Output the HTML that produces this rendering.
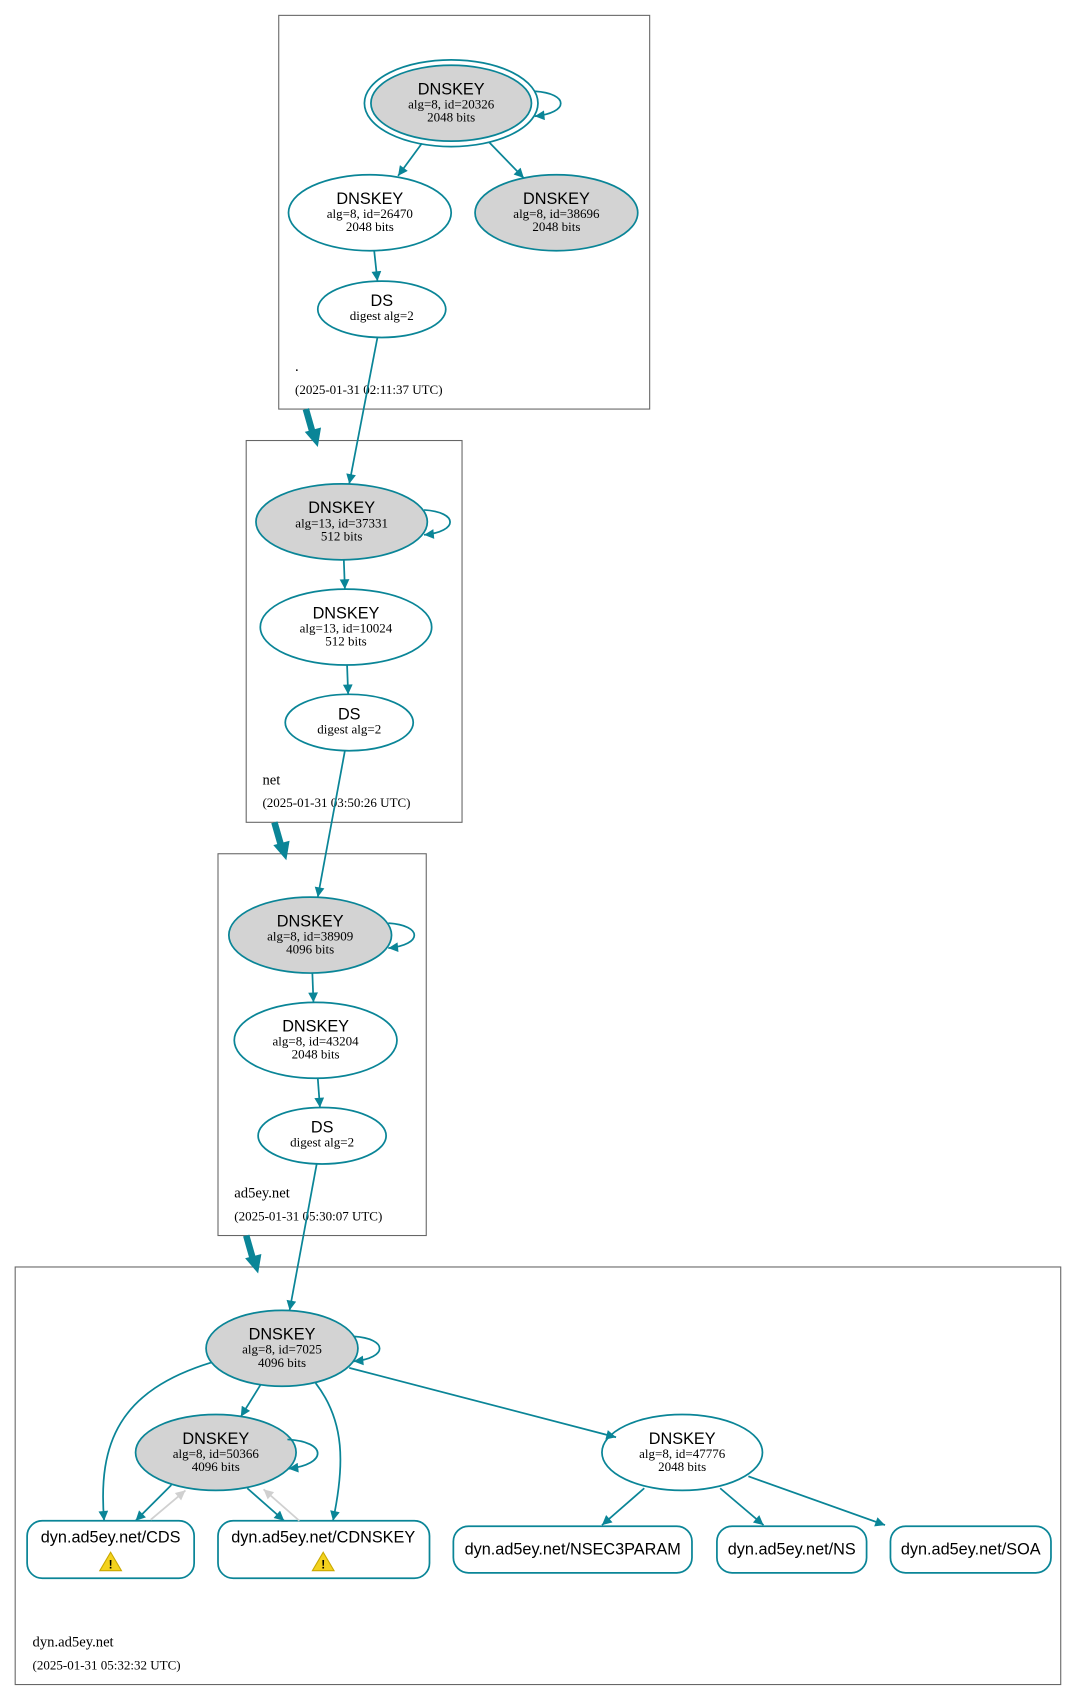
<!DOCTYPE html>
<html><head><meta charset="utf-8"><style>
html,body{margin:0;padding:0;background:#fff;}
svg{display:block;}
.s{font-family:"Liberation Sans",sans-serif;font-size:15px;fill:#000;text-anchor:middle;}
.d{font-family:"Liberation Serif",serif;font-size:12px;fill:#000;text-anchor:middle;}
.l{font-family:"Liberation Serif",serif;font-size:13.5px;fill:#000;}
.ls{font-family:"Liberation Serif",serif;font-size:12px;fill:#000;}
.e{stroke:#0a8597;stroke-width:1.6;fill:none;marker-end:url(#a);}
.g{stroke:#d0d0d0;stroke-width:1.6;fill:none;marker-end:url(#ag);}
.n{stroke:#0a8597;stroke-width:1.6;}
.box{fill:none;stroke:#666;stroke-width:1;}
.t{stroke:#0a8597;stroke-width:6;fill:none;}
</style></head><body>
<svg width="1077" height="1701" viewBox="0 0 993 1568" xmlns="http://www.w3.org/2000/svg">
<defs>
<marker id="a" viewBox="0 0 10 10" refX="10" refY="5" markerWidth="11" markerHeight="9" orient="auto" markerUnits="userSpaceOnUse"><path d="M0,0L10,5L0,10z" fill="#0a8597"/></marker>
<marker id="ag" viewBox="0 0 10 10" refX="10" refY="5" markerWidth="11" markerHeight="9" orient="auto" markerUnits="userSpaceOnUse"><path d="M0,0L10,5L0,10z" fill="#d0d0d0"/></marker>
</defs>
<rect class="box" x="257" y="14" width="342" height="363"/>
<rect class="box" x="227" y="406" width="199" height="352"/>
<rect class="box" x="201" y="787" width="192" height="352"/>
<rect class="box" x="14" y="1168" width="964" height="385"/>
<text class="l" x="272" y="342">.</text><text class="ls" x="272" y="363">(2025-01-31 02:11:37 UTC)</text>
<text class="l" x="242" y="723">net</text><text class="ls" x="242" y="744">(2025-01-31 03:50:26 UTC)</text>
<text class="l" x="216" y="1104">ad5ey.net</text><text class="ls" x="216" y="1125">(2025-01-31 05:30:07 UTC)</text>
<text class="l" x="30" y="1518">dyn.ad5ey.net</text><text class="ls" x="30" y="1539">(2025-01-31 05:32:32 UTC)</text>
<path class="t" d="M282,377 L288,398"/><path d="M281,398 L296,394 L293,412z" fill="#0a8597"/>
<path class="t" d="M253,758 L259,779"/><path d="M252,779 L267,775 L264,793z" fill="#0a8597"/>
<path class="t" d="M227,1139 L233,1160"/><path d="M226,1160 L241,1156 L238,1174z" fill="#0a8597"/>
<ellipse class="n" cx="416" cy="95" rx="80" ry="40" fill="#fff"/>
<ellipse class="n" cx="416" cy="95" rx="74" ry="35" fill="#d3d3d3"/>
<text class="s" x="416" y="87">DNSKEY</text><text class="d" x="416" y="100">alg=8, id=20326</text><text class="d" x="416" y="112">2048 bits</text>
<path class="e" d="M493,84 C525,86 525,104 493,107"/>
<ellipse class="n" cx="341" cy="196" rx="75" ry="35" fill="#fff"/>
<text class="s" x="341" y="188">DNSKEY</text><text class="d" x="341" y="201">alg=8, id=26470</text><text class="d" x="341" y="213">2048 bits</text>
<ellipse class="n" cx="513" cy="196" rx="75" ry="35" fill="#d3d3d3"/>
<text class="s" x="513" y="188">DNSKEY</text><text class="d" x="513" y="201">alg=8, id=38696</text><text class="d" x="513" y="213">2048 bits</text>
<ellipse class="n" cx="352" cy="285" rx="59" ry="26" fill="#fff"/>
<text class="s" x="352" y="282">DS</text><text class="d" x="352" y="295">digest alg=2</text>
<path class="e" d="M389,132 L367,162"/>
<path class="e" d="M451,131 L483,164"/>
<path class="e" d="M345,231 L348,259"/>
<path class="e" d="M348,311 L322,446"/>
<ellipse class="n" cx="315" cy="481" rx="79" ry="35" fill="#d3d3d3"/>
<text class="s" x="315" y="473">DNSKEY</text><text class="d" x="315" y="486">alg=13, id=37331</text><text class="d" x="315" y="498">512 bits</text>
<path class="e" d="M391,470 C423,472 423,490 391,493"/>
<ellipse class="n" cx="319" cy="578" rx="79" ry="35" fill="#fff"/>
<text class="s" x="319" y="570">DNSKEY</text><text class="d" x="319" y="583">alg=13, id=10024</text><text class="d" x="319" y="595">512 bits</text>
<ellipse class="n" cx="322" cy="666" rx="59" ry="26" fill="#fff"/>
<text class="s" x="322" y="663">DS</text><text class="d" x="322" y="676">digest alg=2</text>
<path class="e" d="M317,516 L318,543"/>
<path class="e" d="M320,613 L321,640"/>
<path class="e" d="M318,692 L293,827"/>
<ellipse class="n" cx="286" cy="862" rx="75" ry="35" fill="#d3d3d3"/>
<text class="s" x="286" y="854">DNSKEY</text><text class="d" x="286" y="867">alg=8, id=38909</text><text class="d" x="286" y="879">4096 bits</text>
<path class="e" d="M358,851 C390,853 390,871 358,874"/>
<ellipse class="n" cx="291" cy="959" rx="75" ry="35" fill="#fff"/>
<text class="s" x="291" y="951">DNSKEY</text><text class="d" x="291" y="964">alg=8, id=43204</text><text class="d" x="291" y="976">2048 bits</text>
<ellipse class="n" cx="297" cy="1047" rx="59" ry="26" fill="#fff"/>
<text class="s" x="297" y="1044">DS</text><text class="d" x="297" y="1057">digest alg=2</text>
<path class="e" d="M288,897 L289,924"/>
<path class="e" d="M293,994 L295,1021"/>
<path class="e" d="M292,1073 L267,1208"/>
<ellipse class="n" cx="260" cy="1243" rx="70" ry="35" fill="#d3d3d3"/>
<text class="s" x="260" y="1235">DNSKEY</text><text class="d" x="260" y="1248">alg=8, id=7025</text><text class="d" x="260" y="1260">4096 bits</text>
<path class="e" d="M326,1232 C358,1234 358,1252 326,1255"/>
<ellipse class="n" cx="199" cy="1339" rx="74" ry="35" fill="#d3d3d3"/>
<text class="s" x="199" y="1331">DNSKEY</text><text class="d" x="199" y="1344">alg=8, id=50366</text><text class="d" x="199" y="1356">4096 bits</text>
<path class="e" d="M265,1327 C302,1329 302,1350 266,1354"/>
<ellipse class="n" cx="629" cy="1339" rx="74" ry="35" fill="#fff"/>
<text class="s" x="629" y="1331">DNSKEY</text><text class="d" x="629" y="1344">alg=8, id=47776</text><text class="d" x="629" y="1356">2048 bits</text>
<rect class="n" x="25" y="1402" width="154" height="53" rx="14" fill="#fff"/>
<text class="s" x="102" y="1422">dyn.ad5ey.net/CDS</text>
<rect class="n" x="201" y="1402" width="195" height="53" rx="14" fill="#fff"/>
<text class="s" x="298" y="1422">dyn.ad5ey.net/CDNSKEY</text>
<g><path d="M102,1431 L112,1448 L92,1448z" fill="#f3d21e" stroke="#c9a800" stroke-width="1"/><text x="102" y="1446" text-anchor="middle" font-family="Liberation Sans,sans-serif" font-size="11" font-weight="bold">!</text></g>
<g><path d="M298,1431 L308,1448 L288,1448z" fill="#f3d21e" stroke="#c9a800" stroke-width="1"/><text x="298" y="1446" text-anchor="middle" font-family="Liberation Sans,sans-serif" font-size="11" font-weight="bold">!</text></g>
<rect class="n" x="418" y="1407" width="220" height="43" rx="14" fill="#fff"/>
<text class="s" x="528" y="1433">dyn.ad5ey.net/NSEC3PARAM</text>
<rect class="n" x="661" y="1407" width="138" height="43" rx="14" fill="#fff"/>
<text class="s" x="730" y="1433">dyn.ad5ey.net/NS</text>
<rect class="n" x="821" y="1407" width="148" height="43" rx="14" fill="#fff"/>
<text class="s" x="895" y="1433">dyn.ad5ey.net/SOA</text>
<path class="e" d="M240,1277 L222,1306"/>
<path class="e" d="M195,1256 C110,1282 90,1330 96,1402"/>
<path class="e" d="M291,1275 C318,1310 318,1350 307,1402"/>
<path class="e" d="M322,1261 L568,1325"/>
<path class="e" d="M158,1369 L125,1402"/>
<path class="g" d="M139,1401 L171,1374"/>
<path class="e" d="M228,1372 L262,1402"/>
<path class="g" d="M276,1402 L243,1373"/>
<path class="e" d="M594,1372 L555,1406"/>
<path class="e" d="M664,1372 L704,1406"/>
<path class="e" d="M690,1361 L816,1406"/>
</svg>
</body></html>
